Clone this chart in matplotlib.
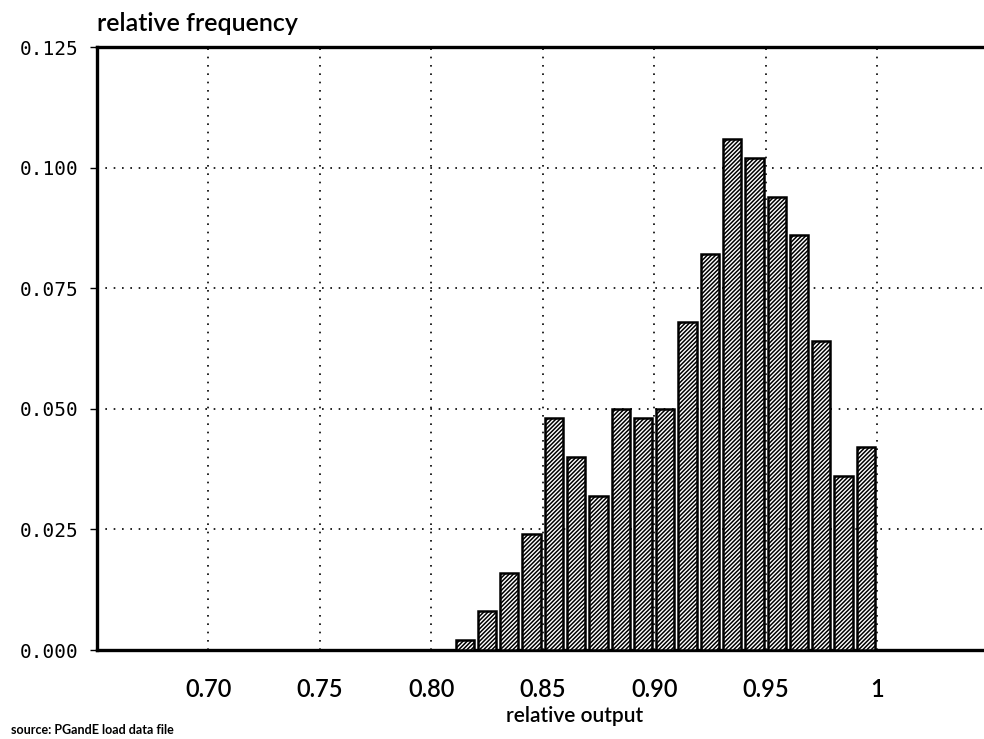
import matplotlib
matplotlib.use("Agg")
import matplotlib.pyplot as plt

# histogram of relative output (bin centres) and relative frequency
bins = [0.815, 0.825, 0.835, 0.845, 0.855, 0.865, 0.875, 0.885, 0.895, 0.905,
        0.915, 0.925, 0.935, 0.945, 0.955, 0.965, 0.975, 0.985, 0.995]
freq = [0.002, 0.008, 0.016, 0.024, 0.048, 0.040, 0.032, 0.050, 0.048, 0.050,
        0.068, 0.082, 0.106, 0.102, 0.094, 0.086, 0.064, 0.036, 0.042]

xticks = [0.70, 0.75, 0.80, 0.85, 0.90, 0.95, 1.00]
xlabels = ["0.70", "0.75", "0.80", "0.85", "0.90", "0.95", "1"]
yticks = [0.0, 0.025, 0.05, 0.075, 0.1, 0.125]
ylabels = ["0.000", "0.025", "0.050", "0.075", "0.100", "0.125"]

plt.rcParams['hatch.linewidth'] = 1.1
plt.rcParams['font.family'] = ['Lato', 'DejaVu Sans']

fig = plt.figure(figsize=(9.84, 7.39), dpi=100)
ax = fig.add_axes([0.0986, 0.1204, 0.9014, 0.816])

ax.bar(bins, freq, width=0.0082, color='white', edgecolor='black',
       linewidth=1.8, hatch='////////', zorder=3)

ax.set_xlim(0.65, 1.048)
ax.set_ylim(0, 0.125)
ax.set_xticks(xticks)
ax.set_xticklabels(xlabels, fontsize=17, fontweight='semibold')
ax.set_yticks(yticks)
ax.set_yticklabels(ylabels, fontsize=14, family='DejaVu Sans Mono')
ax.tick_params(axis='x', length=0, pad=20)
ax.tick_params(axis='y', length=5, width=1, pad=8)

ax.grid(True, linestyle=(0, (1, 4)), color='black', linewidth=1.2)
ax.set_axisbelow(True)

for s in ['left', 'top', 'bottom']:
    ax.spines[s].set_linewidth(2.4)
ax.spines['right'].set_visible(False)

fig.text(0.0986, 0.952, "relative frequency", fontsize=18, fontweight='semibold',
         ha='left', va='bottom')
fig.text(0.584, 0.018, "relative output", fontsize=15, fontweight='semibold',
         ha='center', va='bottom')
fig.text(0.011, 0.004, "source: PGandE load data file", fontsize=9,
         fontweight='bold', ha='left', va='bottom')

fig.savefig("out.png", dpi=100)
